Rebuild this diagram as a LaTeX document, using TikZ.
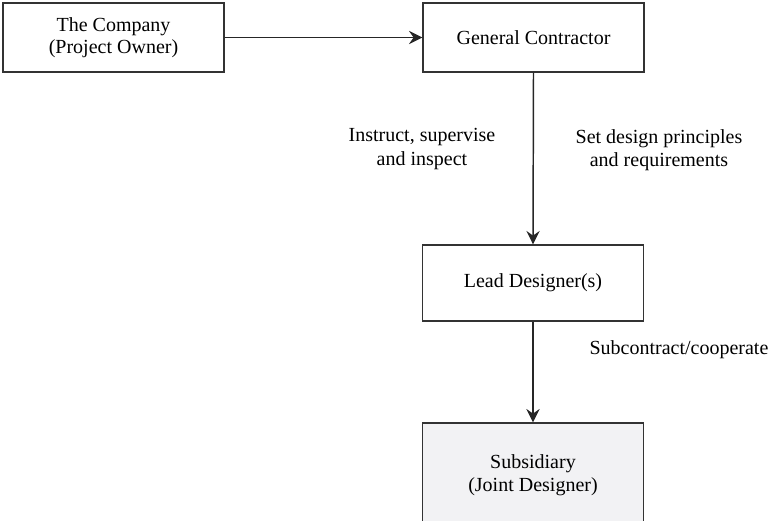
\documentclass[tikz,border=0pt]{standalone}
\usepackage{fontspec}
\setmainfont{Liberation Serif}
\usetikzlibrary{arrows.meta}
\begin{document}
\begin{tikzpicture}[x=0.75pt,y=-0.75pt,
  box/.style={draw=black!80, line width=1.1pt, minimum width=165.75pt, inner sep=0pt, align=center, font=\fontsize{15pt}{17.5pt}\selectfont},
  lbl/.style={align=center, font=\fontsize{15pt}{17.5pt}\selectfont, inner sep=0pt},
  conn/.style={draw=black!85, line width=1.1pt, -{Stealth[length=10pt,width=10pt,inset=3.5pt]}}]
\useasboundingbox (0,0) rectangle (769,521);
\node[box, minimum height=51.75pt] (owner) at (113.5,37.5) {\raisebox{-2pt}{\shortstack{The Company\\(Project Owner)}}};
\node[box, minimum height=51.75pt] (gc) at (533.5,37.5) {General Contractor};
\node[box, minimum height=57pt] (lead) at (533,283) {Lead Designer(s)};
\node[box, minimum height=78pt, fill={rgb,255:red,242;green,242;blue,244}] (sub) at (533,475) {Subsidiary\\(Joint Designer)};
\draw[conn] (owner.east) -- (gc.west);
\draw[conn] (gc.south) -- (lead.north);
\draw[conn] (lead.south) -- (sub.north);
\node[lbl] (l1) at (422,149) {Instruct, supervise\\and inspect};
\node[lbl] (l2) at (659,150) {Set design principles\\and requirements};
\node[lbl] (l3) at (679,350) {Subcontract/cooperate};
\end{tikzpicture}
\end{document}
